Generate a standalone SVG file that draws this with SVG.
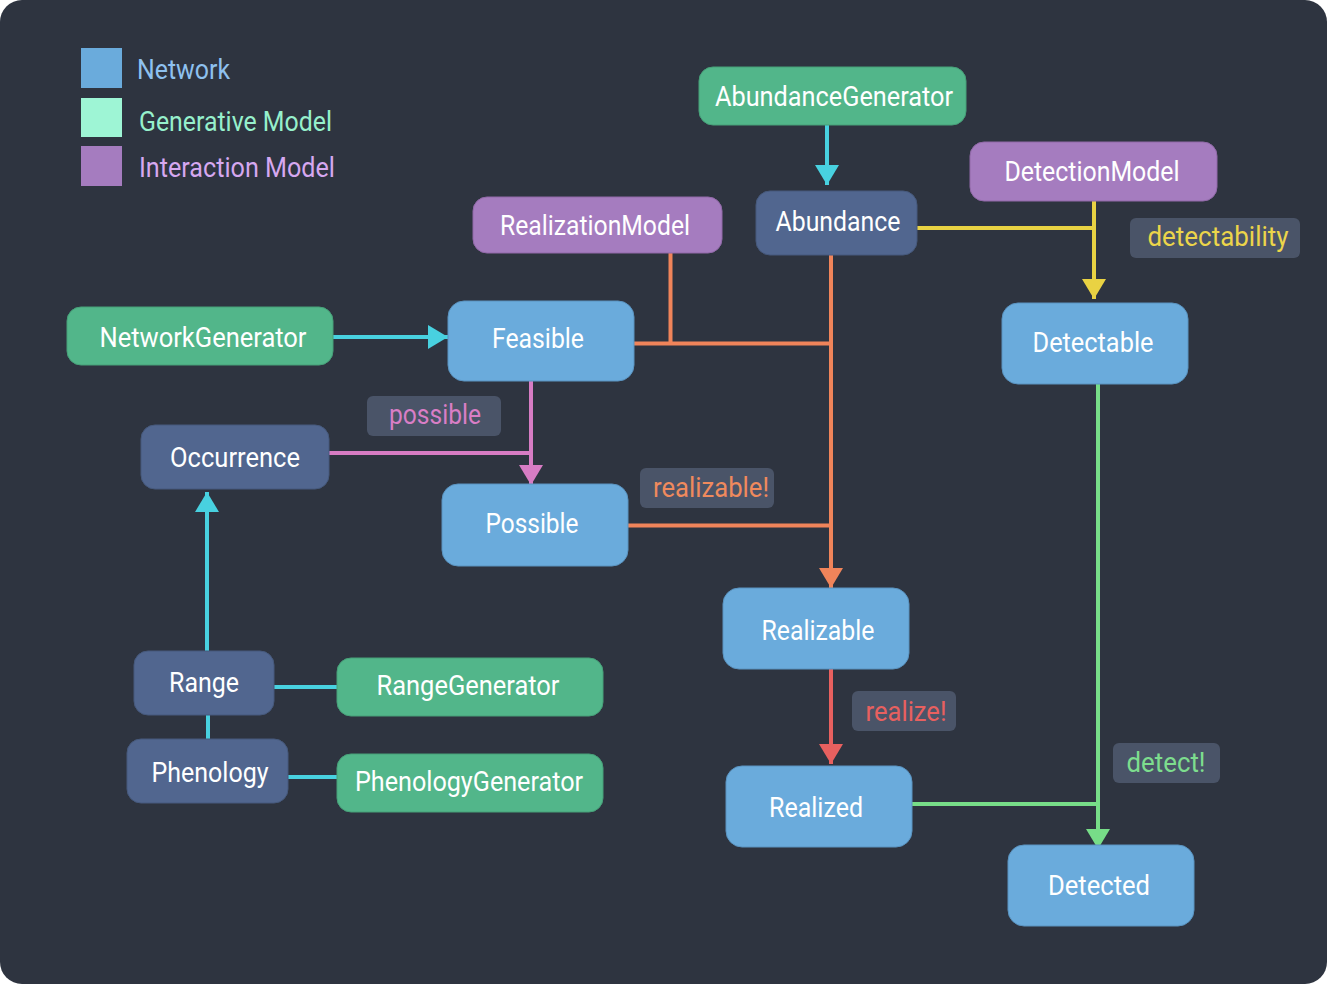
<svg xmlns="http://www.w3.org/2000/svg" width="1327" height="984" viewBox="0 0 1327 984">
<style>
text{font-family:Roboto,"Liberation Sans",sans-serif;font-size:27px;}
.t{fill:#ffffff;text-anchor:middle;}
.lab{text-anchor:middle;}
.net{fill:#6aabdc;stroke:#5a93c0;stroke-width:1;}
.sl{fill:#51668f;stroke:#46597c;stroke-width:1;}
.gen{fill:#52b68a;stroke:#47a079;stroke-width:1;}
.int{fill:#a57cbf;stroke:#9169a8;stroke-width:1;}
.lb{fill:#4a5468;}
.c{fill:none;stroke-width:4;}
</style>
<defs>
<marker id="aCyan" markerUnits="userSpaceOnUse" markerWidth="24" markerHeight="24" refX="20" refY="12" orient="auto"><path d="M0,0 L20,12 L0,24 Z" fill="#48d1e0"/></marker>
<marker id="aOrange" markerUnits="userSpaceOnUse" markerWidth="24" markerHeight="24" refX="20" refY="12" orient="auto"><path d="M0,0 L20,12 L0,24 Z" fill="#f0845a"/></marker>
<marker id="aPink" markerUnits="userSpaceOnUse" markerWidth="24" markerHeight="24" refX="20" refY="12" orient="auto"><path d="M0,0 L20,12 L0,24 Z" fill="#d77cc4"/></marker>
<marker id="aYellow" markerUnits="userSpaceOnUse" markerWidth="24" markerHeight="24" refX="20" refY="12" orient="auto"><path d="M0,0 L20,12 L0,24 Z" fill="#e9d243"/></marker>
<marker id="aRed" markerUnits="userSpaceOnUse" markerWidth="24" markerHeight="24" refX="20" refY="12" orient="auto"><path d="M0,0 L20,12 L0,24 Z" fill="#e8605f"/></marker>
<marker id="aGreen" markerUnits="userSpaceOnUse" markerWidth="24" markerHeight="24" refX="20" refY="12" orient="auto"><path d="M0,0 L20,12 L0,24 Z" fill="#77dd88"/></marker>
</defs>
<rect x="0" y="0" width="1327" height="984" fill="#ffffff"/>
<rect x="0" y="0" width="1327" height="984" rx="22" fill="#2e3440"/>

<g id="legend">
<rect x="81" y="48" width="41" height="40" fill="#6aabdc"/>
<text x="137" y="79" fill="#8ec1ef" textLength="93" lengthAdjust="spacingAndGlyphs">Network</text>
<rect x="81" y="98" width="41" height="39" fill="#9ef5d5"/>
<text x="139" y="131" fill="#96f0cc" textLength="193" lengthAdjust="spacingAndGlyphs">Generative Model</text>
<rect x="81" y="146" width="41" height="40" fill="#a57cbf"/>
<text x="139" y="177" fill="#d6a8f0" textLength="196" lengthAdjust="spacingAndGlyphs">Interaction Model</text>
</g>

<g id="connectors">
<line class="c" stroke="#48d1e0" x1="827" y1="125" x2="827" y2="185" marker-end="url(#aCyan)"/>
<line class="c" stroke="#48d1e0" x1="333" y1="337" x2="448" y2="337" marker-end="url(#aCyan)"/>
<line class="c" stroke="#48d1e0" x1="207" y1="651" x2="207" y2="492" marker-end="url(#aCyan)"/>
<line class="c" stroke="#48d1e0" x1="208" y1="715" x2="208" y2="739"/>
<line class="c" stroke="#48d1e0" x1="274" y1="687" x2="337" y2="687"/>
<line class="c" stroke="#48d1e0" x1="288" y1="777" x2="337" y2="777"/>
<polyline class="c" stroke="#f0845a" points="670.5,253 670.5,343.5"/>
<polyline class="c" stroke="#f0845a" points="634,343.5 831,343.5"/>
<line class="c" stroke="#f0845a" x1="831" y1="255" x2="831" y2="588" marker-end="url(#aOrange)"/>
<polyline class="c" stroke="#f0845a" points="628,525.5 831,525.5"/>
<polyline class="c" stroke="#d77cc4" points="329,453 531,453"/>
<line class="c" stroke="#d77cc4" x1="531" y1="381" x2="531" y2="485" marker-end="url(#aPink)"/>
<polyline class="c" stroke="#e9d243" points="917,228 1094,228"/>
<line class="c" stroke="#e9d243" x1="1094" y1="201" x2="1094" y2="299" marker-end="url(#aYellow)"/>
<line class="c" stroke="#e8605f" x1="831" y1="669" x2="831" y2="764" marker-end="url(#aRed)"/>
<line class="c" stroke="#77dd88" x1="1098" y1="384" x2="1098" y2="849" marker-end="url(#aGreen)"/>
<polyline class="c" stroke="#77dd88" points="912,804 1098,804"/>
</g>

<g id="AbundanceGenerator"><rect class="gen" x="699" y="67" width="267" height="58" rx="14"/><text class="t" x="834" y="106" textLength="238" lengthAdjust="spacingAndGlyphs">AbundanceGenerator</text></g>
<g id="Abundance"><rect class="sl" x="756" y="191" width="161" height="64" rx="14"/><text class="t" x="838" y="231" textLength="125" lengthAdjust="spacingAndGlyphs">Abundance</text></g>
<g id="DetectionModel"><rect class="int" x="970" y="142" width="247" height="59" rx="14"/><text class="t" x="1092" y="181" textLength="175" lengthAdjust="spacingAndGlyphs">DetectionModel</text></g>
<g id="RealizationModel"><rect class="int" x="473" y="197" width="249" height="56" rx="14"/><text class="t" x="595" y="235" textLength="190" lengthAdjust="spacingAndGlyphs">RealizationModel</text></g>
<g id="NetworkGenerator"><rect class="gen" x="67" y="307" width="266" height="58" rx="14"/><text class="t" x="203" y="347" textLength="207" lengthAdjust="spacingAndGlyphs">NetworkGenerator</text></g>
<g id="Feasible"><rect class="net" x="448" y="301" width="186" height="80" rx="16"/><text class="t" x="538" y="348" textLength="92" lengthAdjust="spacingAndGlyphs">Feasible</text></g>
<g id="Detectable"><rect class="net" x="1002" y="303" width="186" height="81" rx="16"/><text class="t" x="1093" y="352" textLength="121" lengthAdjust="spacingAndGlyphs">Detectable</text></g>
<g id="Occurrence"><rect class="sl" x="141" y="425" width="188" height="64" rx="14"/><text class="t" x="235" y="467" textLength="130" lengthAdjust="spacingAndGlyphs">Occurrence</text></g>
<g id="Possible"><rect class="net" x="442" y="484" width="186" height="82" rx="16"/><text class="t" x="532" y="533" textLength="93" lengthAdjust="spacingAndGlyphs">Possible</text></g>
<g id="Realizable"><rect class="net" x="723" y="588" width="186" height="81" rx="16"/><text class="t" x="818" y="640" textLength="113" lengthAdjust="spacingAndGlyphs">Realizable</text></g>
<g id="Range"><rect class="sl" x="134" y="651" width="140" height="64" rx="14"/><text class="t" x="204" y="692" textLength="70" lengthAdjust="spacingAndGlyphs">Range</text></g>
<g id="RangeGenerator"><rect class="gen" x="337" y="658" width="266" height="58" rx="14"/><text class="t" x="468" y="695" textLength="183" lengthAdjust="spacingAndGlyphs">RangeGenerator</text></g>
<g id="Phenology"><rect class="sl" x="127" y="739" width="161" height="64" rx="14"/><text class="t" x="210" y="782" textLength="117" lengthAdjust="spacingAndGlyphs">Phenology</text></g>
<g id="PhenologyGenerator"><rect class="gen" x="337" y="754" width="266" height="58" rx="14"/><text class="t" x="469" y="791" textLength="228" lengthAdjust="spacingAndGlyphs">PhenologyGenerator</text></g>
<g id="Realized"><rect class="net" x="726" y="766" width="186" height="81" rx="16"/><text class="t" x="816" y="817" textLength="94" lengthAdjust="spacingAndGlyphs">Realized</text></g>
<g id="Detected"><rect class="net" x="1008" y="845" width="186" height="81" rx="16"/><text class="t" x="1099" y="895" textLength="102" lengthAdjust="spacingAndGlyphs">Detected</text></g>

<g id="label-possible"><rect class="lb" x="367" y="396" width="134" height="40" rx="6"/><text class="lab" x="435" y="424" fill="#d97ec6" textLength="92" lengthAdjust="spacingAndGlyphs">possible</text></g>
<g id="label-realizable"><rect class="lb" x="640" y="468" width="134" height="40" rx="6"/><text class="lab" x="711" y="497" fill="#f08a5d" textLength="116" lengthAdjust="spacingAndGlyphs">realizable!</text></g>
<g id="label-detectability"><rect class="lb" x="1130" y="218" width="170" height="40" rx="6"/><text class="lab" x="1218" y="246" fill="#ecd54a" textLength="141" lengthAdjust="spacingAndGlyphs">detectability</text></g>
<g id="label-realize"><rect class="lb" x="852" y="691" width="104" height="40" rx="6"/><text class="lab" x="906" y="721" fill="#e8605f" textLength="81" lengthAdjust="spacingAndGlyphs">realize!</text></g>
<g id="label-detect"><rect class="lb" x="1113" y="743" width="107" height="40" rx="6"/><text class="lab" x="1166" y="772" fill="#7ddd8e" textLength="79" lengthAdjust="spacingAndGlyphs">detect!</text></g>
</svg>
